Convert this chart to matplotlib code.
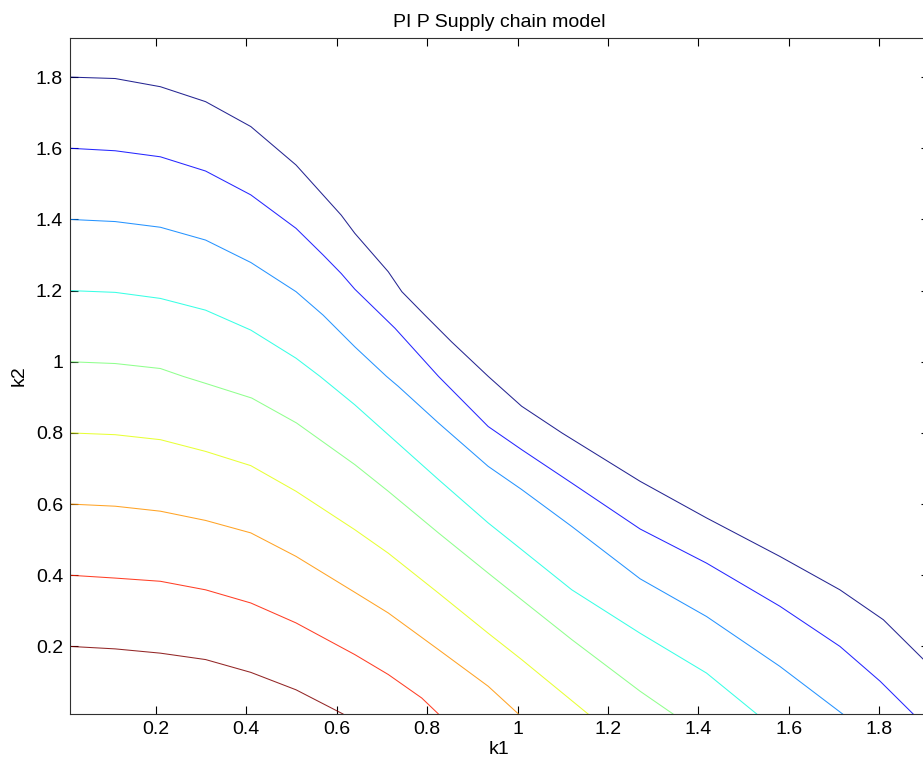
import numpy as np
import matplotlib
matplotlib.use('Agg')
from matplotlib import pyplot as plt
from matplotlib.ticker import FuncFormatter

# contour levels, top curve first
levels = [1.8, 1.6, 1.4, 1.2, 1.0, 0.8, 0.6, 0.4, 0.2]

# k1 / k2 points of each contour line
k1_18 = [0.01, 0.11, 0.21, 0.31, 0.41, 0.51, 0.61, 0.64, 0.714, 0.744, 0.795, 0.854,
         0.935, 1.009, 1.098, 1.271, 1.418, 1.580, 1.713, 1.809, 1.898, 1.91]
k2_18 = [1.80, 1.796, 1.773, 1.731, 1.661, 1.553, 1.412, 1.361, 1.253, 1.197, 1.131, 1.056,
         0.959, 0.875, 0.800, 0.664, 0.561, 0.453, 0.359, 0.275, 0.163, 0.14]

k1_16 = [0.01, 0.11, 0.21, 0.31, 0.41, 0.51, 0.57, 0.61, 0.64, 0.729, 0.825, 0.935,
         1.009, 1.120, 1.271, 1.418, 1.580, 1.713, 1.802, 1.875]
k2_16 = [1.60, 1.593, 1.576, 1.536, 1.469, 1.375, 1.300, 1.248, 1.204, 1.094, 0.959, 0.818,
         0.753, 0.659, 0.530, 0.434, 0.313, 0.200, 0.102, 0.01]

k1_14 = [0.01, 0.11, 0.21, 0.31, 0.41, 0.51, 0.57, 0.64, 0.710, 0.736, 0.825, 0.935,
         1.009, 1.120, 1.271, 1.418, 1.580, 1.719]
k2_14 = [1.40, 1.394, 1.378, 1.342, 1.279, 1.197, 1.131, 1.042, 0.959, 0.931, 0.828, 0.706,
         0.641, 0.537, 0.390, 0.284, 0.144, 0.01]

k1_12 = [0.01, 0.11, 0.21, 0.31, 0.41, 0.51, 0.563, 0.640, 0.714, 0.825, 0.935, 1.009,
         1.120, 1.271, 1.418, 1.529]
k2_12 = [1.20, 1.195, 1.178, 1.145, 1.089, 1.010, 0.959, 0.879, 0.795, 0.669, 0.547, 0.472,
         0.359, 0.237, 0.125, 0.01]

k1_10 = [0.01, 0.11, 0.21, 0.26, 0.308, 0.412, 0.511, 0.640, 0.714, 0.825, 0.935, 1.009,
         1.120, 1.271, 1.344]
k2_10 = [1.00, 0.995, 0.981, 0.959, 0.940, 0.898, 0.828, 0.711, 0.636, 0.519, 0.406, 0.331,
         0.219, 0.074, 0.01]

k1_08 = [0.01, 0.11, 0.21, 0.31, 0.41, 0.51, 0.640, 0.714, 0.825, 0.935, 1.009, 1.156]
k2_08 = [0.80, 0.795, 0.781, 0.748, 0.708, 0.636, 0.528, 0.462, 0.350, 0.237, 0.163, 0.01]

k1_06 = [0.01, 0.11, 0.21, 0.31, 0.41, 0.51, 0.640, 0.714, 0.825, 0.935, 1.002]
k2_06 = [0.60, 0.594, 0.580, 0.554, 0.519, 0.453, 0.352, 0.294, 0.191, 0.088, 0.01]

k1_04 = [0.01, 0.11, 0.21, 0.31, 0.41, 0.51, 0.640, 0.714, 0.788, 0.825]
k2_04 = [0.40, 0.392, 0.383, 0.359, 0.322, 0.266, 0.177, 0.121, 0.055, 0.01]

k1_02 = [0.01, 0.11, 0.21, 0.31, 0.41, 0.51, 0.614]
k2_02 = [0.20, 0.193, 0.181, 0.163, 0.127, 0.078, 0.01]

k1_lines = [k1_18, k1_16, k1_14, k1_12, k1_10, k1_08, k1_06, k1_04, k1_02]
k2_lines = [k2_18, k2_16, k2_14, k2_12, k2_10, k2_08, k2_06, k2_04, k2_02]

ticks = [0.2, 0.4, 0.6, 0.8, 1.0, 1.2, 1.4, 1.6, 1.8]


def plot_contours():
    plt.rcParams['font.family'] = ['Liberation Sans', 'DejaVu Sans']
    fig = plt.figure(figsize=(9.23, 7.67), dpi=100)
    # axes runs a little past the right edge, like the cropped original
    ax = fig.add_axes([0.0758, 0.0691, 0.9307, 0.8814])

    # jet colours, dark blue for the highest level down to dark red
    colors = plt.cm.jet(np.linspace(0, 1, len(levels)))
    for xs, ys, c in zip(k1_lines, k2_lines, colors):
        ax.plot(xs, ys, color=c, lw=0.75, alpha=0.85)

    ax.set_xlim(0.01, 1.91)
    ax.set_ylim(0.01, 1.91)
    ax.set_xticks(ticks)
    ax.set_yticks(ticks)
    fmt = FuncFormatter(lambda v, p: '%g' % v)
    ax.xaxis.set_major_formatter(fmt)
    ax.yaxis.set_major_formatter(fmt)
    ax.tick_params(direction='in', top=True, right=True, length=6, width=0.8,
                   labelsize=14, pad=5, color='k')
    for s in ax.spines.values():
        s.set_linewidth(0.8)
        s.set_color('#303030')

    ax.set_title('PI P Supply chain model', fontsize=14, pad=8)
    ax.set_xlabel('k1', fontsize=14, labelpad=2)
    ax.set_ylabel('k2', fontsize=14, labelpad=6)

    fig.savefig('out.png', dpi=100)


if __name__ == '__main__':
    plot_contours()
